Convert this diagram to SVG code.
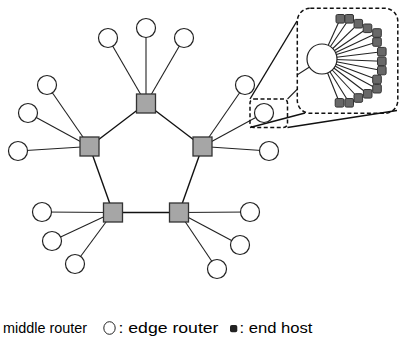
<svg xmlns="http://www.w3.org/2000/svg" width="399" height="337" viewBox="0 0 399 337">
<style>
.ln{stroke:#222;stroke-width:1.1;fill:none}
.pl{stroke:#111;stroke-width:1.4;fill:none}
.er{fill:#fff;stroke:#222;stroke-width:1.2}
.mr{fill:#a6a6a6;stroke:#333;stroke-width:1.3}
.eh{fill:#686868;stroke:#333;stroke-width:1}
.dash{fill:none;stroke:#111;stroke-width:1.5;stroke-dasharray:4 2.5}
.t{font-family:"Liberation Sans",Arial,sans-serif;font-size:14px;fill:#000}
</style>
<rect width="399" height="337" fill="#fff"/>
<g id="connectors">
<line class="pl" x1="146" y1="103.5" x2="89.5" y2="146.5"/>
<line class="pl" x1="146" y1="103.5" x2="202.5" y2="146.5"/>
<line class="pl" x1="89.5" y1="146.5" x2="113" y2="212.5"/>
<line class="pl" x1="202.5" y1="146.5" x2="179" y2="212.5"/>
<line class="pl" x1="113" y1="212.5" x2="179" y2="212.5"/>
<line class="ln" x1="146" y1="103.5" x2="108" y2="38"/>
<line class="ln" x1="146" y1="103.5" x2="146" y2="28"/>
<line class="ln" x1="146" y1="103.5" x2="184" y2="38"/>
<line class="ln" x1="89.5" y1="146.5" x2="47" y2="85"/>
<line class="ln" x1="89.5" y1="146.5" x2="28" y2="113"/>
<line class="ln" x1="89.5" y1="146.5" x2="18" y2="151"/>
<line class="ln" x1="202.5" y1="146.5" x2="245" y2="85"/>
<line class="ln" x1="202.5" y1="146.5" x2="264" y2="113"/>
<line class="ln" x1="202.5" y1="146.5" x2="269" y2="151"/>
<line class="ln" x1="113" y1="212.5" x2="42" y2="212"/>
<line class="ln" x1="113" y1="212.5" x2="52" y2="241"/>
<line class="ln" x1="113" y1="212.5" x2="75" y2="264"/>
<line class="ln" x1="179" y1="212.5" x2="250" y2="212"/>
<line class="ln" x1="179" y1="212.5" x2="240" y2="245"/>
<line class="ln" x1="179" y1="212.5" x2="217" y2="269"/>
<line class="pl" x1="250" y1="99" x2="297" y2="21"/>
<line class="ln" x1="287.5" y1="99" x2="297" y2="89.5"/>
<line class="pl" x1="250" y1="127.5" x2="305" y2="113"/>
<line class="pl" x1="287.5" y1="127.5" x2="397" y2="110.5"/>
<line class="ln" x1="297" y1="75" x2="322" y2="59"/>
<g class="ln">
<line x1="322" y1="59" x2="340.3" y2="18.8"/>
<line x1="322" y1="59" x2="349.2" y2="18.8"/>
<line x1="322" y1="59" x2="358.3" y2="23.7"/>
<line x1="322" y1="59" x2="367.5" y2="28.3"/>
<line x1="322" y1="59" x2="377" y2="33"/>
<line x1="322" y1="59" x2="377" y2="42"/>
<line x1="322" y1="59" x2="381.8" y2="51.7"/>
<line x1="322" y1="59" x2="381.8" y2="61.3"/>
<line x1="322" y1="59" x2="381.8" y2="70.5"/>
<line x1="322" y1="59" x2="377" y2="79.5"/>
<line x1="322" y1="59" x2="377" y2="88.7"/>
<line x1="322" y1="59" x2="367.7" y2="93.8"/>
<line x1="322" y1="59" x2="358.3" y2="98"/>
<line x1="322" y1="59" x2="349.2" y2="102.8"/>
<line x1="322" y1="59" x2="339.5" y2="102.8"/>
</g>
</g>
<g id="zoom-frames">
<rect class="dash" x="250" y="99" width="37.5" height="28.5" rx="4"/>
<rect class="dash" x="297.3" y="8.3" width="100.5" height="105" rx="13"/>
</g>
<g id="edge-routers">
<circle id="e1" class="er" cx="108" cy="38" r="9.5"/>
<circle id="e2" class="er" cx="146" cy="28" r="9.5"/>
<circle id="e3" class="er" cx="184" cy="38" r="9.5"/>
<circle id="e4" class="er" cx="47" cy="85" r="9.5"/>
<circle id="e5" class="er" cx="28" cy="113" r="9.5"/>
<circle id="e6" class="er" cx="18" cy="151" r="9.5"/>
<circle id="e7" class="er" cx="245" cy="85" r="9.5"/>
<circle id="e8" class="er" cx="264" cy="113" r="9.5"/>
<circle id="e9" class="er" cx="269" cy="151" r="9.5"/>
<circle id="e10" class="er" cx="42" cy="212" r="9.5"/>
<circle id="e11" class="er" cx="52" cy="241" r="9.5"/>
<circle id="e12" class="er" cx="75" cy="264" r="9.5"/>
<circle id="e13" class="er" cx="250" cy="212" r="9.5"/>
<circle id="e14" class="er" cx="240" cy="245" r="9.5"/>
<circle id="e15" class="er" cx="217" cy="269" r="9.5"/>
<circle id="e-zoom" class="er" cx="322" cy="59" r="15"/>
</g>
<g id="middle-routers">
<rect id="m1" class="mr" x="136.5" y="94" width="19" height="19"/>
<rect id="m2" class="mr" x="80" y="137" width="19" height="19"/>
<rect id="m3" class="mr" x="193" y="137" width="19" height="19"/>
<rect id="m4" class="mr" x="103.5" y="203" width="19" height="19"/>
<rect id="m5" class="mr" x="169.5" y="203" width="19" height="19"/>
</g>
<g id="end-hosts">
<rect class="eh" x="336" y="14.5" width="8.6" height="8.6" rx="1.5"/>
<rect class="eh" x="344.9" y="14.5" width="8.6" height="8.6" rx="1.5"/>
<rect class="eh" x="354" y="19.4" width="8.6" height="8.6" rx="1.5"/>
<rect class="eh" x="363.2" y="24" width="8.6" height="8.6" rx="1.5"/>
<rect class="eh" x="372.7" y="28.7" width="8.6" height="8.6" rx="1.5"/>
<rect class="eh" x="372.7" y="37.7" width="8.6" height="8.6" rx="1.5"/>
<rect class="eh" x="377.5" y="47.4" width="8.6" height="8.6" rx="1.5"/>
<rect class="eh" x="377.5" y="57" width="8.6" height="8.6" rx="1.5"/>
<rect class="eh" x="377.5" y="66.2" width="8.6" height="8.6" rx="1.5"/>
<rect class="eh" x="372.7" y="75.2" width="8.6" height="8.6" rx="1.5"/>
<rect class="eh" x="372.7" y="84.4" width="8.6" height="8.6" rx="1.5"/>
<rect class="eh" x="363.4" y="89.5" width="8.6" height="8.6" rx="1.5"/>
<rect class="eh" x="354" y="93.7" width="8.6" height="8.6" rx="1.5"/>
<rect class="eh" x="344.9" y="98.5" width="8.6" height="8.6" rx="1.5"/>
<rect class="eh" x="335.2" y="98.5" width="8.6" height="8.6" rx="1.5"/>
</g>
<g id="legend">
<text class="t" x="3" y="333" textLength="84" lengthAdjust="spacingAndGlyphs">middle router</text>
<ellipse cx="109.5" cy="328" rx="5.7" ry="6.3" fill="#fff" stroke="#222" stroke-width="1"/>
<text class="t" x="118.5" y="333" textLength="100" lengthAdjust="spacingAndGlyphs">: edge router</text>
<rect x="230" y="325" width="7.3" height="7.3" rx="1.8" fill="#222"/>
<text class="t" x="239.5" y="333" textLength="73" lengthAdjust="spacingAndGlyphs">: end host</text>
</g>
</svg>
